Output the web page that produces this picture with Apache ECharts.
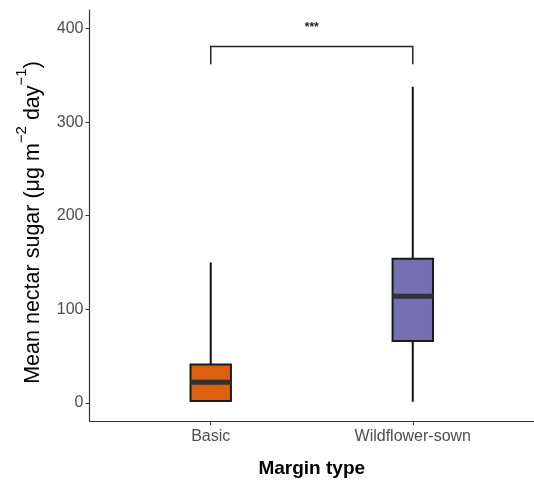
<!DOCTYPE html>
<html>
<head>
<meta charset="utf-8">
<script src="https://cdn.jsdelivr.net/npm/echarts@6/dist/echarts.min.js"></script>
<style>
html,body{margin:0;padding:0;background:#fff;}
#c{width:534px;height:483px;}
</style>
</head>
<body>
<div id="c"></div>
<script>
// Data
const categories = ['Basic', 'Wildflower-sown'];
// [min, q1, median, q3, max]
const basicBox = [1, 2, 22, 41, 150];
const wildBox = [1, 66, 114, 154, 338];
const boxColors = ['#DD6010', '#7570B3'];
const yTicks = [0, 100, 200, 300, 400];
const bracket = { from: 1, to: 2, low: 362, high: 381, label: '***', labelY: 401 };

const boxes = [basicBox, wildBox];
const boxData = boxes.map((b, i) => [i + 1].concat(b));

const FONT = 'Liberation Sans, Arial, sans-serif';
const chart = echarts.init(document.getElementById('c'), null, { renderer: 'canvas' });

const option = {
  animation: false,
  backgroundColor: '#ffffff',
  grid: { left: 89.5, top: 10, width: 449, bottom: 55, containLabel: false },
  xAxis: {
    type: 'value',
    min: 0.4,
    max: 2.6,
    name: 'Margin type',
    nameLocation: 'middle',
    nameGap: 38,
    nameTextStyle: { fontFamily: FONT, fontSize: 19, fontWeight: 'bold', color: '#000' },
    axisLine: { show: true, onZero: false, lineStyle: { color: '#333', width: 1.2 } },
    splitLine: { show: false },
    axisTick: { show: true, customValues: [1, 2], length: 4, lineStyle: { color: '#333' } },
    axisLabel: {
      customValues: [1, 2],
      formatter: v => categories[Math.round(v) - 1] || '',
      fontFamily: FONT, fontSize: 16, color: '#4d4d4d', margin: 8
    }
  },
  yAxis: {
    type: 'value',
    min: -19.5,
    max: 420,
    name: '{a|Mean nectar sugar (μg m}{s|−2}{a| day}{s|−1}{e|)}',
    nameLocation: 'middle',
    nameGap: 45,
    nameRotate: 90,
    nameTextStyle: {
      rich: {
        a: { fontFamily: FONT, fontSize: 21.5, color: '#000', lineHeight: 30, verticalAlign: 'bottom' },
        e: { fontFamily: FONT, fontSize: 21.5, color: '#000', lineHeight: 30, verticalAlign: 'bottom', padding: [0, 14, 0, 0] },
        s: { fontFamily: FONT, fontSize: 15, color: '#000', lineHeight: 30, verticalAlign: 'top' }
      }
    },
    axisLine: { show: true, onZero: false, lineStyle: { color: '#333', width: 1.2 } },
    splitLine: { show: false },
    axisTick: { show: true, customValues: yTicks, length: 4, lineStyle: { color: '#333' } },
    axisLabel: {
      customValues: yTicks,
      fontFamily: FONT, fontSize: 16, color: '#4d4d4d', margin: 6
    }
  },
  series: [
    {
      type: 'custom',
      data: boxData,
      encode: { x: 0, y: [1, 2, 3, 4, 5] },
      renderItem: function (params, api) {
        const x = api.value(0);
        const mn = api.value(1), q1 = api.value(2), med = api.value(3), q3 = api.value(4), mx = api.value(5);
        const half = api.size([0.2, 0])[0] / 2;
        const pMin = api.coord([x, mn]);
        const pMax = api.coord([x, mx]);
        const pQ1 = api.coord([x, q1]);
        const pQ3 = api.coord([x, q3]);
        const pMed = api.coord([x, med]);
        const color = boxColors[params.dataIndex];
        return {
          type: 'group',
          children: [
            { type: 'line', shape: { x1: pMin[0], y1: pMin[1], x2: pMax[0], y2: pMax[1] }, style: { stroke: '#111', lineWidth: 2 } },
            { type: 'rect', shape: { x: pQ3[0] - half, y: pQ3[1], width: half * 2, height: pQ1[1] - pQ3[1] }, style: { fill: color, stroke: '#1a1a1a', lineWidth: 2 } },
            { type: 'line', shape: { x1: pMed[0] - half, y1: pMed[1], x2: pMed[0] + half, y2: pMed[1] }, style: { stroke: '#333', lineWidth: 5 } }
          ]
        };
      }
    },
    {
      type: 'custom',
      data: [[bracket.from, bracket.to, bracket.low, bracket.high, bracket.labelY]],
      encode: { x: [0, 1], y: [2, 3, 4] },
      renderItem: function (params, api) {
        const a = api.coord([api.value(0), api.value(2)]);
        const b = api.coord([api.value(0), api.value(3)]);
        const c = api.coord([api.value(1), api.value(3)]);
        const d = api.coord([api.value(1), api.value(2)]);
        const t = api.coord([(api.value(0) + api.value(1)) / 2, api.value(4)]);
        return {
          type: 'group',
          children: [
            { type: 'polyline', shape: { points: [a, b, c, d] }, style: { stroke: '#222', lineWidth: 1.5, fill: null } },
            { type: 'text', style: { x: t[0], y: t[1], text: bracket.label, align: 'center', verticalAlign: 'middle', fontFamily: FONT, fontSize: 12, fontWeight: 'bold', fill: '#222' } }
          ]
        };
      }
    }
  ]
};
chart.setOption(option);
</script>
</body>
</html>
